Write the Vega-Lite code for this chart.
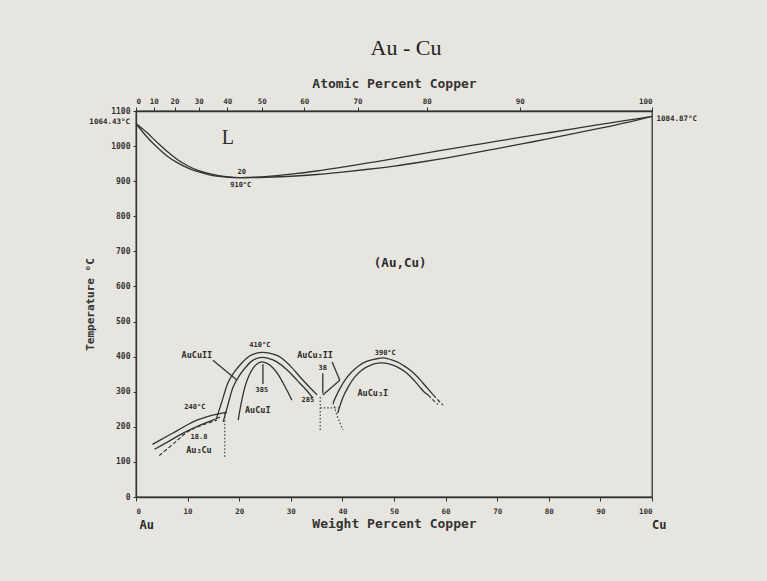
{
  "$schema": "https://vega.github.io/schema/vega-lite/v6.json",
  "autosize": {"type": "none"},
  "width": 516,
  "height": 386,
  "padding": {"left": 136, "top": 111, "right": 115, "bottom": 84},
  "background": "#e7e5df",
  "title": {"text": "Au - Cu", "font": "Liberation Serif", "fontSize": 22, "fontWeight": "normal", "color": "#222222", "offset": 17, "dx": 12},
  "config": {
    "view": {"stroke": "#333333", "strokeWidth": 1.3},
    "axis": {
      "grid": false,
      "domainColor": "#333333",
      "domainWidth": 1.3,
      "tickColor": "#333333",
      "labelFont": "DejaVu Sans Mono",
      "labelFontWeight": "bold",
      "labelColor": "#333333",
      "titleFont": "DejaVu Sans Mono",
      "titleFontWeight": "bold",
      "titleColor": "#333333"
    }
  },
  "datasets": {
    "solid": [
      {"curve": "liq", "i": 0, "w": 0, "t": 1064.4},
      {"curve": "liq", "i": 1, "w": 2, "t": 1040},
      {"curve": "liq", "i": 2, "w": 4, "t": 1012},
      {"curve": "liq", "i": 3, "w": 6, "t": 985},
      {"curve": "liq", "i": 4, "w": 8, "t": 962},
      {"curve": "liq", "i": 5, "w": 10, "t": 944},
      {"curve": "liq", "i": 6, "w": 12, "t": 931},
      {"curve": "liq", "i": 7, "w": 14, "t": 922},
      {"curve": "liq", "i": 8, "w": 16, "t": 916},
      {"curve": "liq", "i": 9, "w": 18, "t": 912},
      {"curve": "liq", "i": 10, "w": 20, "t": 910},
      {"curve": "liq", "i": 11, "w": 22, "t": 911},
      {"curve": "liq", "i": 12, "w": 25, "t": 913},
      {"curve": "liq", "i": 13, "w": 30, "t": 920},
      {"curve": "liq", "i": 14, "w": 35, "t": 929},
      {"curve": "liq", "i": 15, "w": 40, "t": 940},
      {"curve": "liq", "i": 16, "w": 45, "t": 952},
      {"curve": "liq", "i": 17, "w": 50, "t": 964},
      {"curve": "liq", "i": 18, "w": 55, "t": 977},
      {"curve": "liq", "i": 19, "w": 60, "t": 990},
      {"curve": "liq", "i": 20, "w": 65, "t": 1002},
      {"curve": "liq", "i": 21, "w": 70, "t": 1014},
      {"curve": "liq", "i": 22, "w": 75, "t": 1026},
      {"curve": "liq", "i": 23, "w": 80, "t": 1038},
      {"curve": "liq", "i": 24, "w": 85, "t": 1050},
      {"curve": "liq", "i": 25, "w": 90, "t": 1062},
      {"curve": "liq", "i": 26, "w": 95, "t": 1073},
      {"curve": "liq", "i": 27, "w": 100, "t": 1084.9},
      {"curve": "sol", "i": 0, "w": 0, "t": 1064.4},
      {"curve": "sol", "i": 1, "w": 2, "t": 1028},
      {"curve": "sol", "i": 2, "w": 4, "t": 998},
      {"curve": "sol", "i": 3, "w": 6, "t": 972},
      {"curve": "sol", "i": 4, "w": 8, "t": 953},
      {"curve": "sol", "i": 5, "w": 10, "t": 938},
      {"curve": "sol", "i": 6, "w": 12, "t": 927},
      {"curve": "sol", "i": 7, "w": 14, "t": 919},
      {"curve": "sol", "i": 8, "w": 16, "t": 914},
      {"curve": "sol", "i": 9, "w": 18, "t": 911},
      {"curve": "sol", "i": 10, "w": 20, "t": 910},
      {"curve": "sol", "i": 11, "w": 22, "t": 910},
      {"curve": "sol", "i": 12, "w": 25, "t": 911},
      {"curve": "sol", "i": 13, "w": 30, "t": 914},
      {"curve": "sol", "i": 14, "w": 35, "t": 919},
      {"curve": "sol", "i": 15, "w": 40, "t": 926},
      {"curve": "sol", "i": 16, "w": 45, "t": 934},
      {"curve": "sol", "i": 17, "w": 50, "t": 943},
      {"curve": "sol", "i": 18, "w": 55, "t": 954},
      {"curve": "sol", "i": 19, "w": 60, "t": 966},
      {"curve": "sol", "i": 20, "w": 65, "t": 979},
      {"curve": "sol", "i": 21, "w": 70, "t": 993},
      {"curve": "sol", "i": 22, "w": 75, "t": 1007},
      {"curve": "sol", "i": 23, "w": 80, "t": 1021},
      {"curve": "sol", "i": 24, "w": 85, "t": 1036},
      {"curve": "sol", "i": 25, "w": 90, "t": 1051},
      {"curve": "sol", "i": 26, "w": 95, "t": 1067},
      {"curve": "sol", "i": 27, "w": 100, "t": 1084.9},
      {"curve": "cu2a", "i": 0, "w": 15.6, "t": 224},
      {"curve": "cu2a", "i": 1, "w": 16.5, "t": 265},
      {"curve": "cu2a", "i": 2, "w": 17.8, "t": 325},
      {"curve": "cu2a", "i": 3, "w": 19, "t": 355},
      {"curve": "cu2a", "i": 4, "w": 20.5, "t": 382},
      {"curve": "cu2a", "i": 5, "w": 22, "t": 402},
      {"curve": "cu2a", "i": 6, "w": 23.4, "t": 410},
      {"curve": "cu2a", "i": 7, "w": 24.4, "t": 412},
      {"curve": "cu2a", "i": 8, "w": 25.8, "t": 410},
      {"curve": "cu2a", "i": 9, "w": 27.9, "t": 399},
      {"curve": "cu2a", "i": 10, "w": 29.8, "t": 375},
      {"curve": "cu2a", "i": 11, "w": 31.8, "t": 342},
      {"curve": "cu2a", "i": 12, "w": 33.5, "t": 315},
      {"curve": "cu2a", "i": 13, "w": 35.1, "t": 291},
      {"curve": "cu2b", "i": 0, "w": 16.9, "t": 214},
      {"curve": "cu2b", "i": 1, "w": 17.8, "t": 262},
      {"curve": "cu2b", "i": 2, "w": 18.8, "t": 313},
      {"curve": "cu2b", "i": 3, "w": 20, "t": 345},
      {"curve": "cu2b", "i": 4, "w": 21.1, "t": 367},
      {"curve": "cu2b", "i": 5, "w": 22.5, "t": 388},
      {"curve": "cu2b", "i": 6, "w": 24, "t": 397},
      {"curve": "cu2b", "i": 7, "w": 25.5, "t": 396},
      {"curve": "cu2b", "i": 8, "w": 27.3, "t": 385},
      {"curve": "cu2b", "i": 9, "w": 29.3, "t": 362},
      {"curve": "cu2b", "i": 10, "w": 31.2, "t": 333},
      {"curve": "cu2b", "i": 11, "w": 33, "t": 305},
      {"curve": "cu2b", "i": 12, "w": 34.3, "t": 282},
      {"curve": "cu1", "i": 0, "w": 19.8, "t": 219},
      {"curve": "cu1", "i": 1, "w": 20.4, "t": 268},
      {"curve": "cu1", "i": 2, "w": 21.1, "t": 313},
      {"curve": "cu1", "i": 3, "w": 21.8, "t": 343},
      {"curve": "cu1", "i": 4, "w": 22.7, "t": 367},
      {"curve": "cu1", "i": 5, "w": 23.5, "t": 380},
      {"curve": "cu1", "i": 6, "w": 24.4, "t": 385},
      {"curve": "cu1", "i": 7, "w": 25.5, "t": 380},
      {"curve": "cu1", "i": 8, "w": 26.6, "t": 367},
      {"curve": "cu1", "i": 9, "w": 27.6, "t": 348},
      {"curve": "cu1", "i": 10, "w": 28.5, "t": 325},
      {"curve": "cu1", "i": 11, "w": 29.4, "t": 300},
      {"curve": "cu1", "i": 12, "w": 30.2, "t": 276},
      {"curve": "a3a", "i": 0, "w": 3.2, "t": 150},
      {"curve": "a3a", "i": 1, "w": 6, "t": 173},
      {"curve": "a3a", "i": 2, "w": 8, "t": 189},
      {"curve": "a3a", "i": 3, "w": 10, "t": 206},
      {"curve": "a3a", "i": 4, "w": 11.8, "t": 219},
      {"curve": "a3a", "i": 5, "w": 14, "t": 230},
      {"curve": "a3a", "i": 6, "w": 16, "t": 237},
      {"curve": "a3a", "i": 7, "w": 17.6, "t": 242},
      {"curve": "a3b", "i": 0, "w": 3.6, "t": 136},
      {"curve": "a3b", "i": 1, "w": 6.5, "t": 160},
      {"curve": "a3b", "i": 2, "w": 8.5, "t": 177},
      {"curve": "a3b", "i": 3, "w": 10.5, "t": 192},
      {"curve": "a3b", "i": 4, "w": 12.4, "t": 205},
      {"curve": "a3b", "i": 5, "w": 14.5, "t": 217},
      {"curve": "a3b", "i": 6, "w": 16.3, "t": 228},
      {"curve": "c3o", "i": 0, "w": 38.2, "t": 268},
      {"curve": "c3o", "i": 1, "w": 39.3, "t": 303},
      {"curve": "c3o", "i": 2, "w": 40.5, "t": 333},
      {"curve": "c3o", "i": 3, "w": 41.8, "t": 356},
      {"curve": "c3o", "i": 4, "w": 43.4, "t": 376},
      {"curve": "c3o", "i": 5, "w": 44.8, "t": 387},
      {"curve": "c3o", "i": 6, "w": 46.3, "t": 393},
      {"curve": "c3o", "i": 7, "w": 48.3, "t": 396},
      {"curve": "c3o", "i": 8, "w": 50.6, "t": 385},
      {"curve": "c3o", "i": 9, "w": 51.8, "t": 375},
      {"curve": "c3o", "i": 10, "w": 53.1, "t": 362},
      {"curve": "c3o", "i": 11, "w": 54.4, "t": 345},
      {"curve": "c3o", "i": 12, "w": 55.6, "t": 325},
      {"curve": "c3o", "i": 13, "w": 56.6, "t": 308},
      {"curve": "c3o", "i": 14, "w": 57.6, "t": 291},
      {"curve": "c3i", "i": 0, "w": 39.1, "t": 239},
      {"curve": "c3i", "i": 1, "w": 40, "t": 280},
      {"curve": "c3i", "i": 2, "w": 41.1, "t": 313},
      {"curve": "c3i", "i": 3, "w": 42.3, "t": 340},
      {"curve": "c3i", "i": 4, "w": 43.8, "t": 362},
      {"curve": "c3i", "i": 5, "w": 45.5, "t": 376},
      {"curve": "c3i", "i": 6, "w": 47.3, "t": 382},
      {"curve": "c3i", "i": 7, "w": 48.6, "t": 381},
      {"curve": "c3i", "i": 8, "w": 49.8, "t": 376},
      {"curve": "c3i", "i": 9, "w": 51.2, "t": 366},
      {"curve": "c3i", "i": 10, "w": 52.5, "t": 353},
      {"curve": "c3i", "i": 11, "w": 53.8, "t": 334},
      {"curve": "c3i", "i": 12, "w": 55, "t": 313},
      {"curve": "c3i", "i": 13, "w": 55.8, "t": 300},
      {"curve": "c3i", "i": 14, "w": 56.6, "t": 291},
      {"curve": "c3ii", "i": 0, "w": 36.2, "t": 291},
      {"curve": "c3ii", "i": 1, "w": 39.5, "t": 333},
      {"curve": "c3arrow", "i": 0, "w": 38, "t": 385},
      {"curve": "c3arrow", "i": 1, "w": 39.5, "t": 333},
      {"curve": "arr38", "i": 0, "w": 36.2, "t": 353},
      {"curve": "arr38", "i": 1, "w": 36.2, "t": 296},
      {"curve": "arr385", "i": 0, "w": 24.6, "t": 378},
      {"curve": "arr385", "i": 1, "w": 24.6, "t": 322},
      {"curve": "arrcu2", "i": 0, "w": 14.9, "t": 390},
      {"curve": "arrcu2", "i": 1, "w": 19.6, "t": 333}
    ],
    "dashed": [
      {"curve": "a3c", "i": 0, "w": 4.5, "t": 118},
      {"curve": "a3c", "i": 1, "w": 7.5, "t": 155},
      {"curve": "a3c", "i": 2, "w": 9.9, "t": 185},
      {"curve": "a3c", "i": 3, "w": 12.5, "t": 203},
      {"curve": "a3c", "i": 4, "w": 15.7, "t": 219},
      {"curve": "c3od", "i": 0, "w": 57.6, "t": 291},
      {"curve": "c3od", "i": 1, "w": 58.6, "t": 275},
      {"curve": "c3od", "i": 2, "w": 59.5, "t": 262},
      {"curve": "c3id", "i": 0, "w": 56.6, "t": 291},
      {"curve": "c3id", "i": 1, "w": 57.6, "t": 276},
      {"curve": "c3id", "i": 2, "w": 58.5, "t": 264}
    ],
    "dotted": [
      {"curve": "v1", "i": 0, "w": 17.2, "t": 239},
      {"curve": "v1", "i": 1, "w": 17.2, "t": 114},
      {"curve": "v2", "i": 0, "w": 35.7, "t": 285},
      {"curve": "v2", "i": 1, "w": 35.7, "t": 191},
      {"curve": "h1", "i": 0, "w": 35.7, "t": 254},
      {"curve": "h1", "i": 1, "w": 39.3, "t": 254},
      {"curve": "v3", "i": 0, "w": 38.2, "t": 268},
      {"curve": "v3", "i": 1, "w": 39, "t": 230},
      {"curve": "v3", "i": 2, "w": 40.1, "t": 191}
    ],
    "phase": [
      {"label": "AuCuII", "w": 11.8, "t": 405},
      {"label": "AuCuI", "w": 23.6, "t": 248},
      {"label": "Au₃Cu", "w": 12.2, "t": 134},
      {"label": "AuCu₃II", "w": 34.7, "t": 405},
      {"label": "AuCu₃I", "w": 45.9, "t": 296}
    ],
    "small": [
      {"label": "410°C", "w": 24, "t": 433},
      {"label": "385", "w": 24.4, "t": 305},
      {"label": "240°C", "w": 11.4, "t": 256},
      {"label": "18.8", "w": 12.2, "t": 171},
      {"label": "38", "w": 36.2, "t": 367},
      {"label": "285", "w": 33.3, "t": 276},
      {"label": "390°C", "w": 48.3, "t": 410},
      {"label": "20", "w": 20.5, "t": 926},
      {"label": "910°C", "w": 20.3, "t": 889}
    ],
    "edge": [
      {"label": "1064.43°C", "w": -5.1, "t": 1068},
      {"label": "1084.87°C", "w": 104.8, "t": 1076}
    ],
    "ends": [
      {"label": "Au", "w": 2.1, "t": -80},
      {"label": "Cu", "w": 101.4, "t": -80}
    ],
    "liquid": [
      {"label": "L", "w": 17.8, "t": 1023}
    ],
    "region": [
      {"label": "(Au,Cu)", "w": 51.2, "t": 667}
    ]
  },
  "layer": [
    {
      "encoding": {
        "x": {
          "field": "w", "type": "quantitative",
          "scale": {"domain": [0, 100], "nice": false, "zero": false},
          "axis": {"orient": "bottom", "values": [0, 10, 20, 30, 40, 50, 60, 70, 80, 90, 100], "title": "Weight Percent Copper", "labelFontSize": 7.5, "tickSize": 4, "labelPadding": 6, "titleFontSize": 13, "titlePadding": 3}
        },
        "y": {
          "field": "t", "type": "quantitative",
          "scale": {"domain": [0, 1100], "nice": false, "zero": false},
          "axis": {"orient": "left", "values": [0, 100, 200, 300, 400, 500, 600, 700, 800, 900, 1000, 1100], "format": "d", "title": "Temperature °C", "labelFontSize": 8, "tickSize": 3, "labelPadding": 3, "titleFontSize": 11, "titlePadding": 15}
        }
      },
      "layer": [
        {"data": {"name": "solid"}, "mark": {"type": "line", "color": "#333333", "strokeWidth": 1.3, "interpolate": "cardinal"}, "encoding": {"detail": {"field": "curve"}, "order": {"field": "i", "type": "quantitative"}}},
        {"data": {"name": "dashed"}, "mark": {"type": "line", "color": "#333333", "strokeWidth": 1.2, "strokeDash": [4, 2], "interpolate": "cardinal"}, "encoding": {"detail": {"field": "curve"}, "order": {"field": "i", "type": "quantitative"}}},
        {"data": {"name": "dotted"}, "mark": {"type": "line", "color": "#444444", "strokeWidth": 1.2, "strokeDash": [1.5, 2]}, "encoding": {"detail": {"field": "curve"}, "order": {"field": "i", "type": "quantitative"}}},
        {"data": {"name": "phase"}, "mark": {"type": "text", "font": "DejaVu Sans Mono", "fontWeight": "bold", "fontSize": 8.5, "color": "#2b2b2b"}, "encoding": {"text": {"field": "label"}}},
        {"data": {"name": "small"}, "mark": {"type": "text", "font": "DejaVu Sans Mono", "fontWeight": "bold", "fontSize": 7, "color": "#2b2b2b"}, "encoding": {"text": {"field": "label"}}},
        {"data": {"name": "edge"}, "mark": {"type": "text", "font": "DejaVu Sans Mono", "fontWeight": "bold", "fontSize": 7.5, "color": "#2b2b2b"}, "encoding": {"text": {"field": "label"}}},
        {"data": {"name": "ends"}, "mark": {"type": "text", "font": "DejaVu Sans Mono", "fontWeight": "bold", "fontSize": 12, "color": "#2b2b2b"}, "encoding": {"text": {"field": "label"}}},
        {"data": {"name": "liquid"}, "mark": {"type": "text", "font": "Liberation Serif", "fontSize": 20, "color": "#2b2b2b"}, "encoding": {"text": {"field": "label"}}}
      ]
    },
    {
      "data": {"name": "region"},
      "mark": {"type": "text", "font": "DejaVu Sans Mono", "fontWeight": "bold", "fontSize": 12.5, "color": "#2b2b2b"},
      "encoding": {
        "x": {
          "field": "w", "type": "quantitative",
          "scale": {"domain": [0, 100], "nice": false, "zero": false},
          "axis": {"orient": "top", "values": [0, 3.4606, 7.4634, 12.147, 17.701, 24.393, 32.611, 42.948, 56.341, 74.382, 100], "labelExpr": "format(round((datum.value/63.546)/((datum.value/63.546)+((100-datum.value)/196.97))*100), 'd')", "title": "Atomic Percent Copper", "labelFontSize": 7.5, "tickSize": 4, "labelPadding": 2, "titleFontSize": 13, "titlePadding": 7}
        },
        "y": {
          "field": "t", "type": "quantitative",
          "scale": {"domain": [0, 1100], "nice": false, "zero": false},
          "axis": {"orient": "left", "values": [0, 100, 200, 300, 400, 500, 600, 700, 800, 900, 1000, 1100], "format": "d", "title": "Temperature °C", "labelFontSize": 8, "tickSize": 3, "labelPadding": 3, "titleFontSize": 11, "titlePadding": 15}
        },
        "text": {"field": "label"}
      }
    }
  ],
  "resolve": {"scale": {"x": "independent"}}
}
